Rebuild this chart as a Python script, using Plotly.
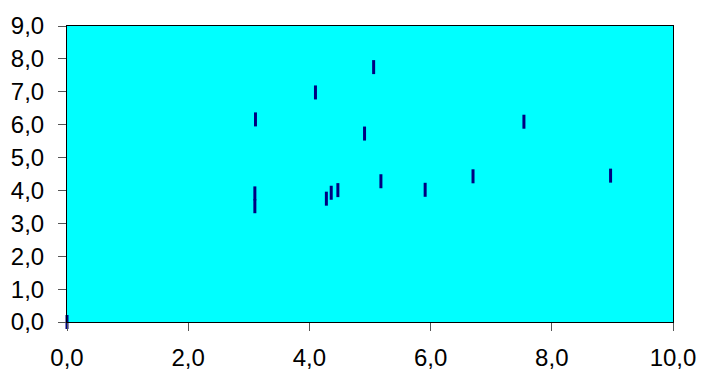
import plotly.graph_objects as go

x_vals = [0.0, 3.10, 3.10, 3.11, 4.10, 4.28, 4.36, 4.47, 4.91, 5.06, 5.18, 5.91, 6.70, 7.54, 8.97]
y_vals = [0.0, 3.91, 3.52, 6.16, 6.98, 3.75, 3.93, 4.01, 5.73, 7.75, 4.28, 4.02, 4.43, 6.09, 4.45]

fig = go.Figure()
fig.add_trace(go.Scatter(
    x=x_vals, y=y_vals, mode="markers", cliponaxis=False,
    marker=dict(symbol="line-ns", size=10, color="#000080",
                line=dict(width=3, color="#000080")),
    showlegend=False,
))

axis_common = dict(
    showgrid=False, zeroline=False, showline=True, mirror=True,
    linecolor="black", linewidth=1, ticks="outside", ticklen=8,
    tickcolor="#555555", tickwidth=1, tickformat=".1f", automargin=False,
    tickfont=dict(family="Liberation Sans, Arial, sans-serif", size=24, color="black"),
)
fig.update_xaxes(range=[0, 10], dtick=2, tick0=0, ticklabelstandoff=6, **axis_common)
fig.update_yaxes(range=[0, 9], dtick=1, tick0=0, ticklabelstandoff=9, **axis_common)

fig.update_layout(
    width=701, height=374,
    margin=dict(l=67, r=28, t=26, b=52),
    plot_bgcolor="#00FFFF", paper_bgcolor="white",
    separators=", ",
)
fig.write_html("out.html")
